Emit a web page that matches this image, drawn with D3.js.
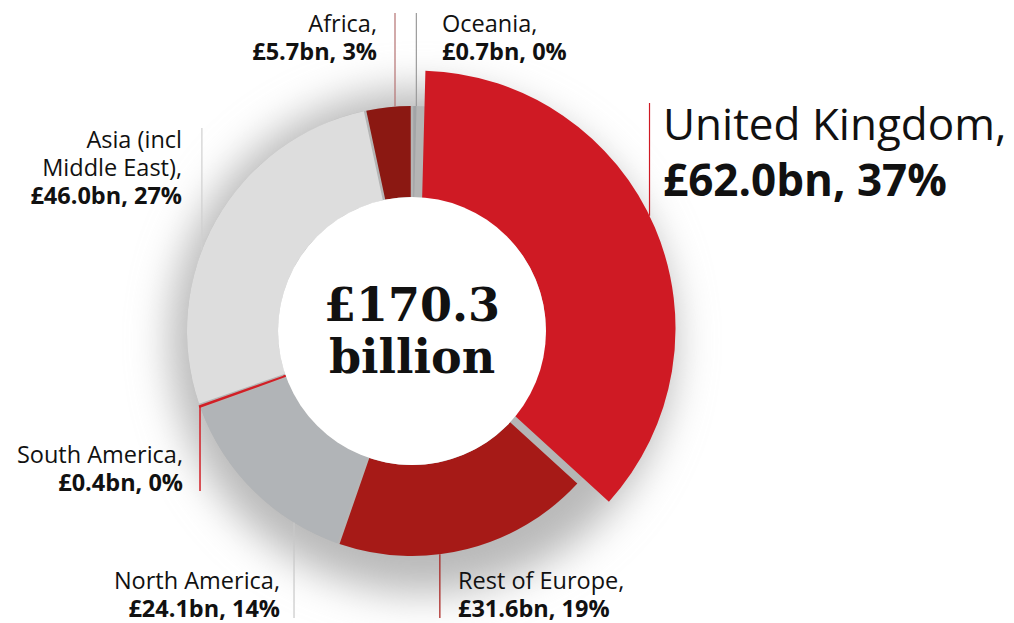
<!DOCTYPE html>
<html>
<head>
<meta charset="utf-8">
<script src="https://cdn.jsdelivr.net/npm/d3@7"></script>
<style>
body { margin: 0; background: #fff; }
text { font-family: "Open Sans", sans-serif; fill: #111; }
</style>
</head>
<body>
<div id="chart"></div>
<script>
// values in £bn, clockwise from 12 o'clock
var regions = ["Oceania", "United Kingdom", "Rest of Europe", "North America", "South America", "Asia (incl Middle East)", "Africa"];
var values = [0.7, 62.0, 31.6, 24.1, 0.4, 46.0, 5.7];
var shares = [0, 37, 19, 14, 0, 27, 3];
var nameLines = [["Oceania,"], ["United Kingdom,"], ["Rest of Europe,"], ["North America,"], ["South America,"], ["Asia (incl", "Middle East),"], ["Africa,"]];
var totalLines = ["£170.3", "billion"];

var colours = ["#a2a4a6", "#cf1a24", "#a61a17", "#b1b4b7", "#d21f26", "#dddddd", "#8b1812"];
var lineColours = ["#9a9a9a", "#cf1a24", "#a61a17", "#c8c8c8", "#d21f26", "#d0d0d0", "#b47272"];

// label layout: where on the slice the leader starts (fraction of its arc), label anchor and baseline
var labelLayout = [
	{ frac: 0.75, x: 442, y: 32, anchor: "start", size: 23.5, lineTo: 13 },
	{ frac: 0.478, x: 663, y: 140, anchor: "start", size: 44, lineTo: 103 },
	{ frac: 0.607, x: 458, y: 589, anchor: "start", size: 23.5, lineTo: 618 },
	{ frac: 0.246, x: 280, y: 589, anchor: "end", size: 23.5, lineTo: 618 },
	{ frac: 0.5, x: 183, y: 463, anchor: "end", size: 23.5, lineTo: 491 },
	{ frac: 0.413, x: 182, y: 148, anchor: "end", size: 23.5, lineTo: 128 },
	{ frac: 0.64, x: 377, y: 32, anchor: "end", size: 23.5, lineTo: 13 }
];

var width = 1014, height = 623;
var cx = 412, cy = 331;
var rInner = 134, rOuter = 225;
var ukIndex = 1, ukOuter = 258, ukPush = 6;

var svg = d3.select("#chart").append("svg")
	.attr("width", width)
	.attr("height", height);

var defs = svg.append("defs");
defs.append("filter")
	.attr("id", "soft")
	.attr("x", "-50%").attr("y", "-50%")
	.attr("width", "200%").attr("height", "200%")
	.append("feGaussianBlur")
	.attr("stdDeviation", 20);

// soft shadow behind the ring
svg.append("circle")
	.attr("cx", cx + 10)
	.attr("cy", cy + 10)
	.attr("r", 252)
	.attr("fill", "#b9b9b9")
	.attr("filter", "url(#soft)");

var pie = d3.pie().sort(null).value(function(d){ return d; });
var slices = pie(values);

var arc = d3.arc()
	.innerRadius(rInner)
	.outerRadius(rOuter)
	.padAngle(2.5 / rOuter)
	.padRadius(rOuter);

var ukArc = d3.arc()
	.innerRadius(128)
	.outerRadius(ukOuter)
	.padAngle(2.5 / rOuter)
	.padRadius(rOuter);

var g = svg.append("g").attr("transform", "translate(" + cx + "," + cy + ")");

// grey base shows through the gaps
g.append("path")
	.attr("d", d3.arc().innerRadius(rInner).outerRadius(rOuter)({ startAngle: 0, endAngle: 2 * Math.PI }))
	.attr("fill", "#b5b5b5");

var offsetOf = function(d, i){
	if(i !== ukIndex) return [0, 0];
	var mid = (d.startAngle + d.endAngle) / 2;
	return [ukPush * Math.sin(mid), -ukPush * Math.cos(mid)];
};

g.selectAll("path.slice").data(slices)
	.enter().append("path")
	.attr("class", "slice")
	.attr("transform", function(d, i){
		var o = offsetOf(d, i);
		return "translate(" + o[0] + "," + o[1] + ")";
	})
	.attr("d", function(d, i){ return i === ukIndex ? ukArc(d) : arc(d); })
	.attr("fill", function(d, i){ return colours[i]; })
	.attr("stroke", function(d, i){ return i === 4 ? colours[i] : "none"; })
	.attr("stroke-width", 2);

// white hole
g.append("circle")
	.attr("r", rInner)
	.attr("fill", "#fff");

g.selectAll("text.total").data(totalLines)
	.enter().append("text")
	.attr("class", "total")
	.attr("text-anchor", "middle")
	.attr("y", function(d, i){ return i === 0 ? -10 : 42; })
	.style("font-family", "'DejaVu Serif', serif")
	.style("font-weight", "bold")
	.style("font-size", "46px")
	.text(function(d){ return d; });

// leader lines
var anchorPoint = function(d, i){
	var a = d.startAngle + labelLayout[i].frac * (d.endAngle - d.startAngle);
	var r = i === ukIndex ? ukOuter : rOuter;
	var o = offsetOf(d, i);
	return [cx + o[0] + r * Math.sin(a), cy + o[1] - r * Math.cos(a)];
};

svg.selectAll("line.leader").data(slices)
	.enter().append("line")
	.attr("class", "leader")
	.attr("x1", function(d, i){ return anchorPoint(d, i)[0]; })
	.attr("y1", function(d, i){ return anchorPoint(d, i)[1]; })
	.attr("x2", function(d, i){ return anchorPoint(d, i)[0]; })
	.attr("y2", function(d, i){ return labelLayout[i].lineTo; })
	.attr("stroke", function(d, i){ return lineColours[i]; })
	.attr("stroke-width", function(d, i){ return i === 4 ? 1.5 : 1.2; });

// labels
var labels = svg.selectAll("text.label").data(slices)
	.enter().append("text")
	.attr("class", "label")
	.attr("x", function(d, i){ return labelLayout[i].x; })
	.attr("y", function(d, i){ return labelLayout[i].y; })
	.attr("text-anchor", function(d, i){ return labelLayout[i].anchor; })
	.style("font-size", function(d, i){ return labelLayout[i].size + "px"; });

labels.each(function(d, i){
	var t = d3.select(this);
	var lay = labelLayout[i];
	var step = i === ukIndex ? 56 : 28;
	nameLines[i].forEach(function(s, k){
		t.append("tspan")
			.attr("x", lay.x)
			.attr("dy", k === 0 ? 0 : step)
			.text(s);
	});
	t.append("tspan")
		.attr("x", lay.x)
		.attr("dy", step)
		.style("font-weight", "bold")
		.text("£" + values[i].toFixed(1) + "bn, " + shares[i] + "%");
});
</script>
</body>
</html>
